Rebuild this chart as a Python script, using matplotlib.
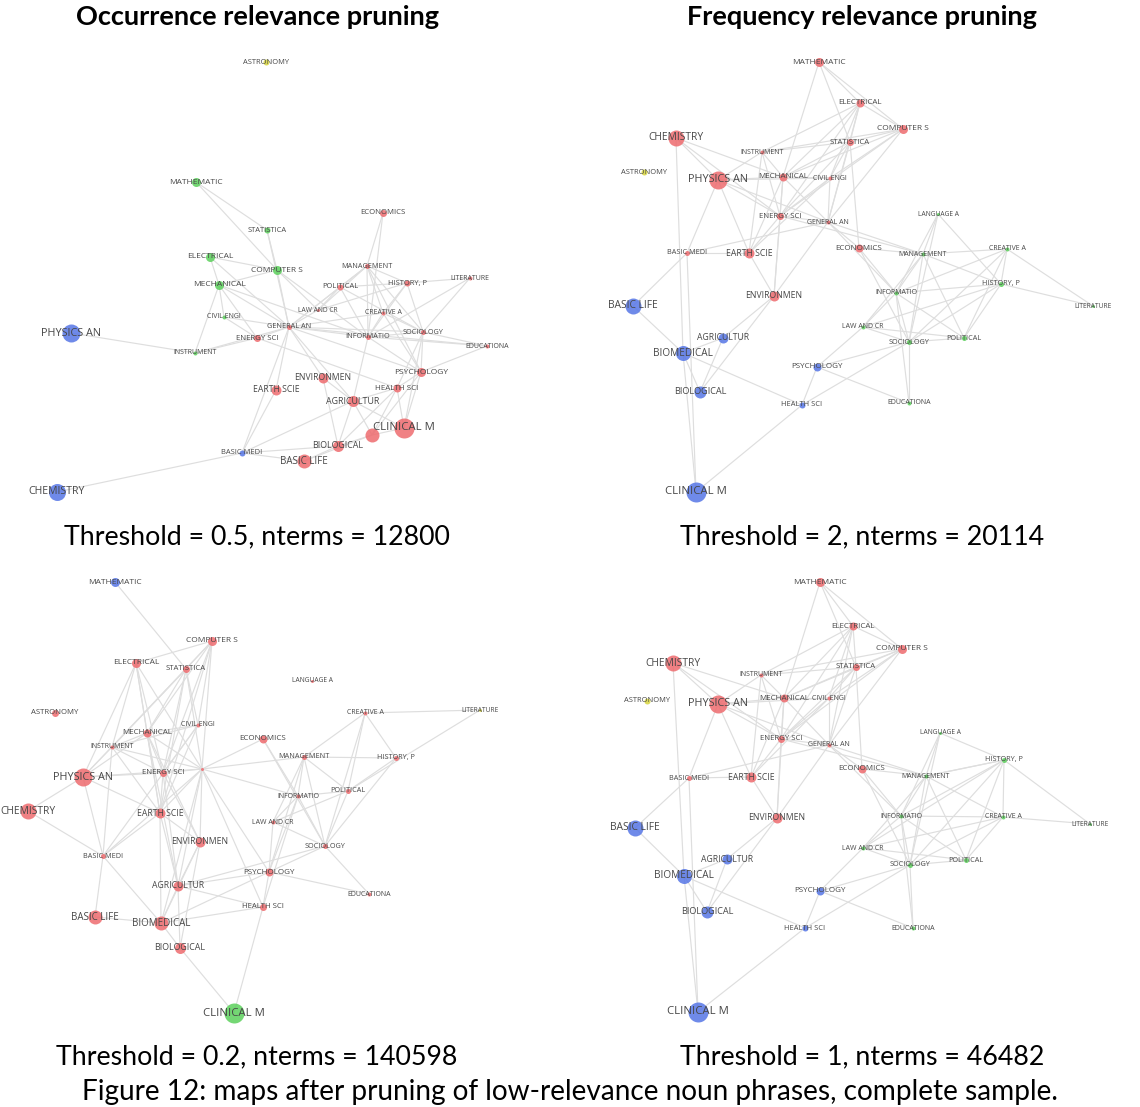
import matplotlib.pyplot as plt
from matplotlib.collections import LineCollection

# Field names shared by all four maps
names = ['MATHEMATIC', 'STATISTICA', 'COMPUTER S', 'ELECTRICAL', 'MECHANICAL',
         'CIVIL ENGI', 'INSTRUMENT', 'ENERGY SCI', 'GENERAL AN', 'PHYSICS AN',
         'CHEMISTRY', 'ASTRONOMY', 'EARTH SCIE', 'ENVIRONMEN', 'BASIC MEDI',
         'BASIC LIFE', 'BIOMEDICAL', 'BIOLOGICAL', 'AGRICULTUR', 'CLINICAL M',
         'HEALTH SCI', 'PSYCHOLOGY', 'ECONOMICS', 'MANAGEMENT', 'INFORMATIO',
         'SOCIOLOGY', 'POLITICAL', 'LAW AND CR', 'HISTORY, P', 'CREATIVE A',
         'LITERATURE', 'LANGUAGE A', 'EDUCATIONA']

palette = {'r': '#ee6b6e', 'b': '#5676e6', 'g': '#5cd05c', 'y': '#d6d43c'}

# ---- occurrence pruning, threshold 0.5 ----
p1_x = [196, 267, 277, 210, 219, 224, 195, 257, 289, 71, 57, 266, 276, 323, 242,
        304, 372, 338, 353, 404, 397, 421, 383, 367, 368, 423, 340, 318, 407, 383,
        470, 0, 487]
p1_y = [182, 230, 270, 257, 285, 317, 353, 338, 327, 333, 492, 62, 390, 378, 453,
        461, 435, 446, 401, 428, 388, 372, 213, 266, 337, 332, 287, 310, 283, 313,
        278, 0, 346]
p1_size = [4.5, 3, 4.5, 4.5, 4.5, 2, 2, 3.5, 2.5, 9, 8.5, 3, 5, 5, 3,
           7, 7, 5.5, 5.5, 10, 4, 4.5, 3.5, 2.5, 2.5, 2.5, 3, 1.5, 3, 2,
           2, 0, 2]
p1_group = ['g', 'g', 'g', 'g', 'g', 'g', 'g', 'r', 'r', 'b', 'b', 'y', 'r', 'r', 'b',
            'r', 'r', 'r', 'r', 'r', 'r', 'r', 'r', 'r', 'r', 'r', 'r', 'r', 'r', 'r',
            'r', 'r', 'r']
p1_unlabeled = ['BIOMEDICAL']
p1_edges = [
    ('PHYSICS AN', 'INSTRUMENT'), ('CHEMISTRY', 'BASIC MEDI'),
    ('BASIC MEDI', 'BIOLOGICAL'), ('BASIC MEDI', 'BASIC LIFE'), ('BASIC MEDI', 'AGRICULTUR'),
    ('BASIC MEDI', 'GENERAL AN'), ('MATHEMATIC', 'STATISTICA'), ('MATHEMATIC', 'COMPUTER S'),
    ('STATISTICA', 'COMPUTER S'), ('STATISTICA', 'GENERAL AN'), ('ELECTRICAL', 'COMPUTER S'),
    ('ELECTRICAL', 'MECHANICAL'), ('ELECTRICAL', 'GENERAL AN'), ('MECHANICAL', 'COMPUTER S'),
    ('MECHANICAL', 'CIVIL ENGI'), ('MECHANICAL', 'INSTRUMENT'), ('MECHANICAL', 'ENERGY SCI'),
    ('MECHANICAL', 'GENERAL AN'), ('MECHANICAL', 'INFORMATIO'), ('COMPUTER S', 'GENERAL AN'),
    ('COMPUTER S', 'LAW AND CR'), ('COMPUTER S', 'INFORMATIO'), ('INSTRUMENT', 'ENERGY SCI'),
    ('INSTRUMENT', 'GENERAL AN'), ('CIVIL ENGI', 'ENERGY SCI'), ('CIVIL ENGI', 'GENERAL AN'),
    ('ENERGY SCI', 'GENERAL AN'), ('ENERGY SCI', 'HEALTH SCI'), ('GENERAL AN', 'EARTH SCIE'),
    ('GENERAL AN', 'ENVIRONMEN'), ('GENERAL AN', 'AGRICULTUR'), ('GENERAL AN', 'POLITICAL'),
    ('GENERAL AN', 'MANAGEMENT'), ('GENERAL AN', 'SOCIOLOGY'), ('GENERAL AN', 'INFORMATIO'),
    ('GENERAL AN', 'PSYCHOLOGY'), ('GENERAL AN', 'EDUCATIONA'), ('GENERAL AN', 'LAW AND CR'),
    ('GENERAL AN', 'CREATIVE A'), ('ECONOMICS', 'MANAGEMENT'), ('ECONOMICS', 'INFORMATIO'),
    ('MANAGEMENT', 'POLITICAL'), ('MANAGEMENT', 'HISTORY, P'), ('MANAGEMENT', 'LAW AND CR'),
    ('MANAGEMENT', 'CREATIVE A'), ('MANAGEMENT', 'INFORMATIO'), ('MANAGEMENT', 'SOCIOLOGY'),
    ('MANAGEMENT', 'PSYCHOLOGY'), ('POLITICAL', 'HISTORY, P'), ('POLITICAL', 'LAW AND CR'),
    ('POLITICAL', 'INFORMATIO'), ('POLITICAL', 'SOCIOLOGY'), ('HISTORY, P', 'LITERATURE'),
    ('HISTORY, P', 'CREATIVE A'), ('HISTORY, P', 'SOCIOLOGY'), ('HISTORY, P', 'INFORMATIO'),
    ('HISTORY, P', 'LAW AND CR'), ('LITERATURE', 'SOCIOLOGY'), ('LITERATURE', 'INFORMATIO'),
    ('CREATIVE A', 'SOCIOLOGY'), ('CREATIVE A', 'INFORMATIO'), ('CREATIVE A', 'PSYCHOLOGY'),
    ('SOCIOLOGY', 'PSYCHOLOGY'), ('SOCIOLOGY', 'EDUCATIONA'), ('SOCIOLOGY', 'INFORMATIO'),
    ('SOCIOLOGY', 'HEALTH SCI'), ('SOCIOLOGY', 'CLINICAL M'), ('INFORMATIO', 'AGRICULTUR'),
    ('INFORMATIO', 'PSYCHOLOGY'), ('INFORMATIO', 'EDUCATIONA'), ('PSYCHOLOGY', 'HEALTH SCI'),
    ('PSYCHOLOGY', 'CLINICAL M'), ('PSYCHOLOGY', 'EDUCATIONA'), ('PSYCHOLOGY', 'BIOMEDICAL'),
    ('HEALTH SCI', 'CLINICAL M'), ('HEALTH SCI', 'AGRICULTUR'), ('HEALTH SCI', 'BIOLOGICAL'),
    ('HEALTH SCI', 'BIOMEDICAL'), ('ENVIRONMEN', 'AGRICULTUR'), ('ENVIRONMEN', 'BIOLOGICAL'),
    ('AGRICULTUR', 'BIOLOGICAL'), ('AGRICULTUR', 'BIOMEDICAL'), ('AGRICULTUR', 'CLINICAL M'),
    ('BIOMEDICAL', 'CLINICAL M'), ('BIOMEDICAL', 'BIOLOGICAL'), ('BIOMEDICAL', 'BASIC LIFE'),
    ('BIOLOGICAL', 'BASIC LIFE'), ('EARTH SCIE', 'BASIC MEDI'),
]

# ---- frequency pruning, threshold 2 ----
p2_x = [819, 850, 903, 860, 783, 830, 762, 780, 828, 718, 676, 644, 749, 774, 687,
        633, 683, 700, 723, 696, 802, 817, 859, 923, 896, 909, 964, 863, 1001, 1007,
        1093, 938, 909]
p2_y = [62, 142, 129, 103, 177, 178, 152, 216, 222, 180, 138, 172, 253, 296, 253,
        306, 353, 392, 338, 492, 405, 367, 248, 254, 293, 342, 338, 327, 284, 249,
        306, 214, 403]
p2_size = [4.5, 3.5, 4.5, 4, 4, 2, 2, 3.5, 2, 9, 8, 3, 5, 5, 2.5,
           8, 7.5, 6, 5, 10, 3, 4, 4, 2, 2, 2.5, 2.5, 2, 2.5, 2,
           1.5, 1.5, 2]
p2_group = ['r', 'r', 'r', 'r', 'r', 'r', 'r', 'r', 'r', 'r', 'r', 'y', 'r', 'r', 'r',
            'b', 'b', 'b', 'b', 'b', 'b', 'b', 'r', 'g', 'g', 'g', 'g', 'g', 'g', 'g',
            'g', 'g', 'g']
p2_unlabeled = []
core_edges = [
    ('MATHEMATIC', 'ELECTRICAL'), ('MATHEMATIC', 'COMPUTER S'), ('MATHEMATIC', 'STATISTICA'),
    ('MATHEMATIC', 'MECHANICAL'), ('ELECTRICAL', 'COMPUTER S'), ('ELECTRICAL', 'STATISTICA'),
    ('ELECTRICAL', 'INSTRUMENT'), ('ELECTRICAL', 'MECHANICAL'), ('ELECTRICAL', 'CIVIL ENGI'),
    ('ELECTRICAL', 'ENERGY SCI'), ('ELECTRICAL', 'GENERAL AN'), ('COMPUTER S', 'STATISTICA'),
    ('COMPUTER S', 'INSTRUMENT'), ('COMPUTER S', 'MECHANICAL'), ('COMPUTER S', 'CIVIL ENGI'),
    ('COMPUTER S', 'ENERGY SCI'), ('COMPUTER S', 'GENERAL AN'), ('STATISTICA', 'INSTRUMENT'),
    ('STATISTICA', 'ECONOMICS'), ('STATISTICA', 'CIVIL ENGI'), ('STATISTICA', 'ENERGY SCI'),
    ('STATISTICA', 'GENERAL AN'), ('STATISTICA', 'MECHANICAL'), ('CHEMISTRY', 'PHYSICS AN'),
    ('CHEMISTRY', 'BIOMEDICAL'), ('CHEMISTRY', 'MECHANICAL'), ('CHEMISTRY', 'ENERGY SCI'),
    ('PHYSICS AN', 'INSTRUMENT'), ('PHYSICS AN', 'MECHANICAL'), ('PHYSICS AN', 'ENERGY SCI'),
    ('PHYSICS AN', 'GENERAL AN'), ('PHYSICS AN', 'EARTH SCIE'), ('PHYSICS AN', 'BASIC MEDI'),
    ('PHYSICS AN', 'CIVIL ENGI'), ('INSTRUMENT', 'MECHANICAL'), ('INSTRUMENT', 'ENERGY SCI'),
    ('INSTRUMENT', 'EARTH SCIE'), ('MECHANICAL', 'CIVIL ENGI'), ('MECHANICAL', 'ENERGY SCI'),
    ('MECHANICAL', 'GENERAL AN'), ('MECHANICAL', 'ENVIRONMEN'), ('MECHANICAL', 'EARTH SCIE'),
    ('CIVIL ENGI', 'ENERGY SCI'), ('CIVIL ENGI', 'GENERAL AN'), ('CIVIL ENGI', 'EARTH SCIE'),
    ('ENERGY SCI', 'GENERAL AN'), ('ENERGY SCI', 'EARTH SCIE'), ('ENERGY SCI', 'ENVIRONMEN'),
    ('ENERGY SCI', 'MANAGEMENT'), ('GENERAL AN', 'ECONOMICS'), ('GENERAL AN', 'ENVIRONMEN'),
    ('GENERAL AN', 'BASIC MEDI'), ('GENERAL AN', 'MANAGEMENT'), ('GENERAL AN', 'INFORMATIO'),
    ('EARTH SCIE', 'ENVIRONMEN'), ('EARTH SCIE', 'BASIC MEDI'), ('ECONOMICS', 'MANAGEMENT'),
    ('ECONOMICS', 'INFORMATIO'), ('ECONOMICS', 'SOCIOLOGY'), ('LANGUAGE A', 'MANAGEMENT'),
    ('LANGUAGE A', 'INFORMATIO'), ('LANGUAGE A', 'HISTORY, P'), ('LANGUAGE A', 'SOCIOLOGY'),
    ('MANAGEMENT', 'CREATIVE A'), ('MANAGEMENT', 'INFORMATIO'), ('MANAGEMENT', 'SOCIOLOGY'),
    ('MANAGEMENT', 'POLITICAL'), ('MANAGEMENT', 'LAW AND CR'), ('MANAGEMENT', 'HISTORY, P'),
    ('CREATIVE A', 'INFORMATIO'), ('CREATIVE A', 'HISTORY, P'), ('CREATIVE A', 'LITERATURE'),
    ('CREATIVE A', 'SOCIOLOGY'), ('CREATIVE A', 'POLITICAL'), ('HISTORY, P', 'INFORMATIO'),
    ('HISTORY, P', 'LITERATURE'), ('HISTORY, P', 'SOCIOLOGY'), ('HISTORY, P', 'POLITICAL'),
    ('HISTORY, P', 'LAW AND CR'), ('INFORMATIO', 'LAW AND CR'), ('INFORMATIO', 'SOCIOLOGY'),
    ('INFORMATIO', 'POLITICAL'), ('INFORMATIO', 'EDUCATIONA'), ('LAW AND CR', 'SOCIOLOGY'),
    ('LAW AND CR', 'POLITICAL'), ('LAW AND CR', 'PSYCHOLOGY'), ('SOCIOLOGY', 'POLITICAL'),
    ('SOCIOLOGY', 'EDUCATIONA'), ('SOCIOLOGY', 'HEALTH SCI'), ('SOCIOLOGY', 'PSYCHOLOGY'),
    ('PSYCHOLOGY', 'HEALTH SCI'), ('PSYCHOLOGY', 'EDUCATIONA'), ('BASIC MEDI', 'BASIC LIFE'),
    ('BASIC MEDI', 'CLINICAL M'), ('BASIC LIFE', 'BIOMEDICAL'), ('ENVIRONMEN', 'AGRICULTUR'),
    ('ENVIRONMEN', 'BIOLOGICAL'), ('AGRICULTUR', 'BIOMEDICAL'), ('AGRICULTUR', 'BIOLOGICAL'),
    ('BIOMEDICAL', 'HEALTH SCI'), ('BIOMEDICAL', 'CLINICAL M'), ('BIOMEDICAL', 'BIOLOGICAL'),
    ('HEALTH SCI', 'CLINICAL M'),
]
p2_edges = core_edges

# ---- occurrence pruning, threshold 0.2 ----
p3_x = [115, 186, 212, 136, 147, 198, 112, 163, 202, 83, 28, 55, 160, 200, 103,
        95, 161, 180, 178, 234, 263, 269, 263, 304, 298, 325, 348, 273, 396, 365,
        480, 312, 369]
p3_y = [582, 669, 641, 663, 733, 725, 747, 773, 769, 777, 811, 713, 813, 842, 856,
        917, 923, 948, 886, 1013, 907, 872, 739, 757, 796, 846, 791, 822, 758, 713,
        710, 681, 894]
p3_size = [4.5, 3.5, 4.5, 4.5, 4, 2, 2, 3.5, 1.5, 9, 8, 3.5, 5, 5, 2.5,
           7, 7, 5.5, 5, 10, 3.5, 4, 4, 2.5, 2, 2.5, 2.5, 2, 2.5, 2,
           1.5, 1.5, 2]
p3_group = ['b', 'r', 'r', 'r', 'r', 'r', 'r', 'r', 'r', 'r', 'r', 'r', 'r', 'r', 'r',
            'r', 'r', 'r', 'r', 'g', 'r', 'r', 'r', 'r', 'r', 'r', 'r', 'r', 'r', 'r',
            'y', 'r', 'r']
p3_unlabeled = ['GENERAL AN']
p3_edges = [
    ('MATHEMATIC', 'STATISTICA'), ('COMPUTER S', 'ELECTRICAL'), ('COMPUTER S', 'STATISTICA'),
    ('COMPUTER S', 'MECHANICAL'), ('COMPUTER S', 'INSTRUMENT'), ('COMPUTER S', 'ENERGY SCI'),
    ('COMPUTER S', 'GENERAL AN'), ('COMPUTER S', 'CIVIL ENGI'), ('COMPUTER S', 'EARTH SCIE'),
    ('ELECTRICAL', 'MECHANICAL'), ('ELECTRICAL', 'INSTRUMENT'), ('ELECTRICAL', 'ENERGY SCI'),
    ('ELECTRICAL', 'GENERAL AN'), ('ELECTRICAL', 'PHYSICS AN'), ('ELECTRICAL', 'EARTH SCIE'),
    ('STATISTICA', 'MECHANICAL'), ('STATISTICA', 'INSTRUMENT'), ('STATISTICA', 'ENERGY SCI'),
    ('STATISTICA', 'GENERAL AN'), ('STATISTICA', 'CIVIL ENGI'), ('STATISTICA', 'PHYSICS AN'),
    ('STATISTICA', 'EARTH SCIE'), ('CREATIVE A', 'LITERATURE'), ('CREATIVE A', 'MANAGEMENT'),
    ('CREATIVE A', 'HISTORY, P'), ('CREATIVE A', 'SOCIOLOGY'), ('CREATIVE A', 'POLITICAL'),
    ('LITERATURE', 'POLITICAL'), ('CIVIL ENGI', 'MECHANICAL'), ('CIVIL ENGI', 'INSTRUMENT'),
    ('CIVIL ENGI', 'ENERGY SCI'), ('CIVIL ENGI', 'EARTH SCIE'), ('CIVIL ENGI', 'BASIC MEDI'),
    ('MECHANICAL', 'INSTRUMENT'), ('MECHANICAL', 'ENERGY SCI'), ('MECHANICAL', 'EARTH SCIE'),
    ('MECHANICAL', 'GENERAL AN'), ('MECHANICAL', 'PHYSICS AN'), ('MECHANICAL', 'ENVIRONMEN'),
    ('MECHANICAL', 'AGRICULTUR'), ('INSTRUMENT', 'PHYSICS AN'), ('INSTRUMENT', 'ENERGY SCI'),
    ('INSTRUMENT', 'EARTH SCIE'), ('INSTRUMENT', 'GENERAL AN'), ('INSTRUMENT', 'BASIC MEDI'),
    ('ECONOMICS', 'GENERAL AN'), ('ECONOMICS', 'INFORMATIO'), ('ECONOMICS', 'SOCIOLOGY'),
    ('MANAGEMENT', 'GENERAL AN'), ('MANAGEMENT', 'HISTORY, P'), ('MANAGEMENT', 'INFORMATIO'),
    ('MANAGEMENT', 'POLITICAL'), ('MANAGEMENT', 'SOCIOLOGY'), ('MANAGEMENT', 'LAW AND CR'),
    ('MANAGEMENT', 'PSYCHOLOGY'), ('HISTORY, P', 'POLITICAL'), ('HISTORY, P', 'SOCIOLOGY'),
    ('GENERAL AN', 'ENERGY SCI'), ('GENERAL AN', 'EARTH SCIE'), ('GENERAL AN', 'ENVIRONMEN'),
    ('GENERAL AN', 'INFORMATIO'), ('GENERAL AN', 'PSYCHOLOGY'), ('GENERAL AN', 'HEALTH SCI'),
    ('GENERAL AN', 'PHYSICS AN'), ('GENERAL AN', 'BASIC MEDI'), ('GENERAL AN', 'AGRICULTUR'),
    ('GENERAL AN', 'BIOMEDICAL'), ('ENERGY SCI', 'PHYSICS AN'), ('ENERGY SCI', 'EARTH SCIE'),
    ('ENERGY SCI', 'ENVIRONMEN'), ('ENERGY SCI', 'AGRICULTUR'), ('PHYSICS AN', 'CHEMISTRY'),
    ('PHYSICS AN', 'EARTH SCIE'), ('PHYSICS AN', 'BASIC MEDI'), ('CHEMISTRY', 'BASIC MEDI'),
    ('POLITICAL', 'INFORMATIO'), ('POLITICAL', 'SOCIOLOGY'), ('POLITICAL', 'LAW AND CR'),
    ('INFORMATIO', 'LAW AND CR'), ('INFORMATIO', 'SOCIOLOGY'), ('INFORMATIO', 'PSYCHOLOGY'),
    ('INFORMATIO', 'HEALTH SCI'), ('EARTH SCIE', 'ENVIRONMEN'), ('EARTH SCIE', 'AGRICULTUR'),
    ('EARTH SCIE', 'BIOMEDICAL'), ('EARTH SCIE', 'BASIC MEDI'), ('LAW AND CR', 'SOCIOLOGY'),
    ('LAW AND CR', 'PSYCHOLOGY'), ('ENVIRONMEN', 'AGRICULTUR'), ('ENVIRONMEN', 'BIOLOGICAL'),
    ('ENVIRONMEN', 'BIOMEDICAL'), ('SOCIOLOGY', 'PSYCHOLOGY'), ('SOCIOLOGY', 'EDUCATIONA'),
    ('SOCIOLOGY', 'AGRICULTUR'), ('BASIC MEDI', 'BASIC LIFE'), ('BASIC MEDI', 'BIOMEDICAL'),
    ('PSYCHOLOGY', 'AGRICULTUR'), ('PSYCHOLOGY', 'HEALTH SCI'), ('PSYCHOLOGY', 'EDUCATIONA'),
    ('PSYCHOLOGY', 'BIOMEDICAL'), ('AGRICULTUR', 'HEALTH SCI'), ('AGRICULTUR', 'BIOMEDICAL'),
    ('AGRICULTUR', 'BIOLOGICAL'), ('HEALTH SCI', 'BIOMEDICAL'), ('HEALTH SCI', 'CLINICAL M'),
    ('BASIC LIFE', 'BIOMEDICAL'), ('BIOMEDICAL', 'BIOLOGICAL'), ('BIOLOGICAL', 'CLINICAL M'),
]

# ---- frequency pruning, threshold 1 ----
p4_x = [820, 856, 902, 853, 784, 829, 761, 781, 829, 718, 673, 647, 751, 777, 689,
        635, 684, 707, 727, 698, 805, 820, 862, 926, 901, 910, 966, 863, 1004, 1003,
        1090, 940, 913]
p4_y = [582, 667, 649, 626, 698, 698, 675, 739, 745, 704, 663, 701, 777, 818, 778,
        828, 876, 912, 859, 1012, 928, 891, 769, 776, 816, 865, 860, 848, 760, 817,
        824, 733, 928]
p4_size = [4.5, 3.5, 4.5, 4, 4, 2, 2, 3.5, 2, 9, 8, 3, 5, 5, 2.5,
           8, 7.5, 6, 5, 10, 3, 4, 4, 2, 2, 2.5, 2.5, 2, 2.5, 2,
           1.5, 1.5, 2]
p4_group = p2_group
p4_unlabeled = []
p4_edges = core_edges + [('HISTORY, P', 'MANAGEMENT'), ('CREATIVE A', 'LAW AND CR')]

titles = ['Occurrence relevance pruning', 'Frequency relevance pruning']
captions = ['Threshold = 0.5, nterms = 12800', 'Threshold = 2, nterms = 20114',
            'Threshold = 0.2, nterms = 140598', 'Threshold = 1, nterms = 46482']
figure_caption = 'Figure 12: maps after pruning of low-relevance noun phrases, complete sample.'

panels = [
    (p1_x, p1_y, p1_size, p1_group, p1_edges, p1_unlabeled),
    (p2_x, p2_y, p2_size, p2_group, p2_edges, p2_unlabeled),
    (p3_x, p3_y, p3_size, p3_group, p3_edges, p3_unlabeled),
    (p4_x, p4_y, p4_size, p4_group, p4_edges, p4_unlabeled),
]

fig = plt.figure(figsize=(11.4, 11.07), dpi=100)
ax = fig.add_axes([0, 0, 1, 1])
ax.set_xlim(0, 1140)
ax.set_ylim(1107, 0)
ax.axis('off')

idx = {n: i for i, n in enumerate(names)}

for xs, ys, sizes, groups, edges, unlabeled in panels:
    segs = []
    for a, b in edges:
        i, j = idx[a], idx[b]
        if sizes[i] == 0 or sizes[j] == 0:
            continue
        segs.append([(xs[i], ys[i]), (xs[j], ys[j])])
    ax.add_collection(LineCollection(segs, colors='#dedede', linewidths=0.85, zorder=1))

    for i, n in enumerate(names):
        r = sizes[i]
        if r == 0:
            continue
        # radius in pixels -> marker area in points^2
        ax.scatter(xs[i], ys[i], s=(2 * r * 0.72) ** 2, color=palette[groups[i]],
                   alpha=0.85, linewidths=0, zorder=2)
        if n in unlabeled:
            continue
        ax.text(xs[i], ys[i], n, ha='center', va='center', fontsize=4.2 + 0.4 * r,
                family='Open Sans', color='#474747', zorder=3)

ax.text(257, 17, titles[0], ha='center', va='center', fontsize=19.5, fontweight='bold',
        family='Lato', color='black')
ax.text(862, 17, titles[1], ha='center', va='center', fontsize=19.5, fontweight='bold',
        family='Lato', color='black')
for (cx, cy), cap in zip([(257, 537), (862, 537), (257, 1057), (862, 1057)], captions):
    ax.text(cx, cy, cap, ha='center', va='center', fontsize=19.3, family='Lato', color='black')
ax.text(570, 1092, figure_caption, ha='center', va='center', fontsize=20.2,
        family='Lato', color='black')

fig.savefig('out.png', dpi=100)
